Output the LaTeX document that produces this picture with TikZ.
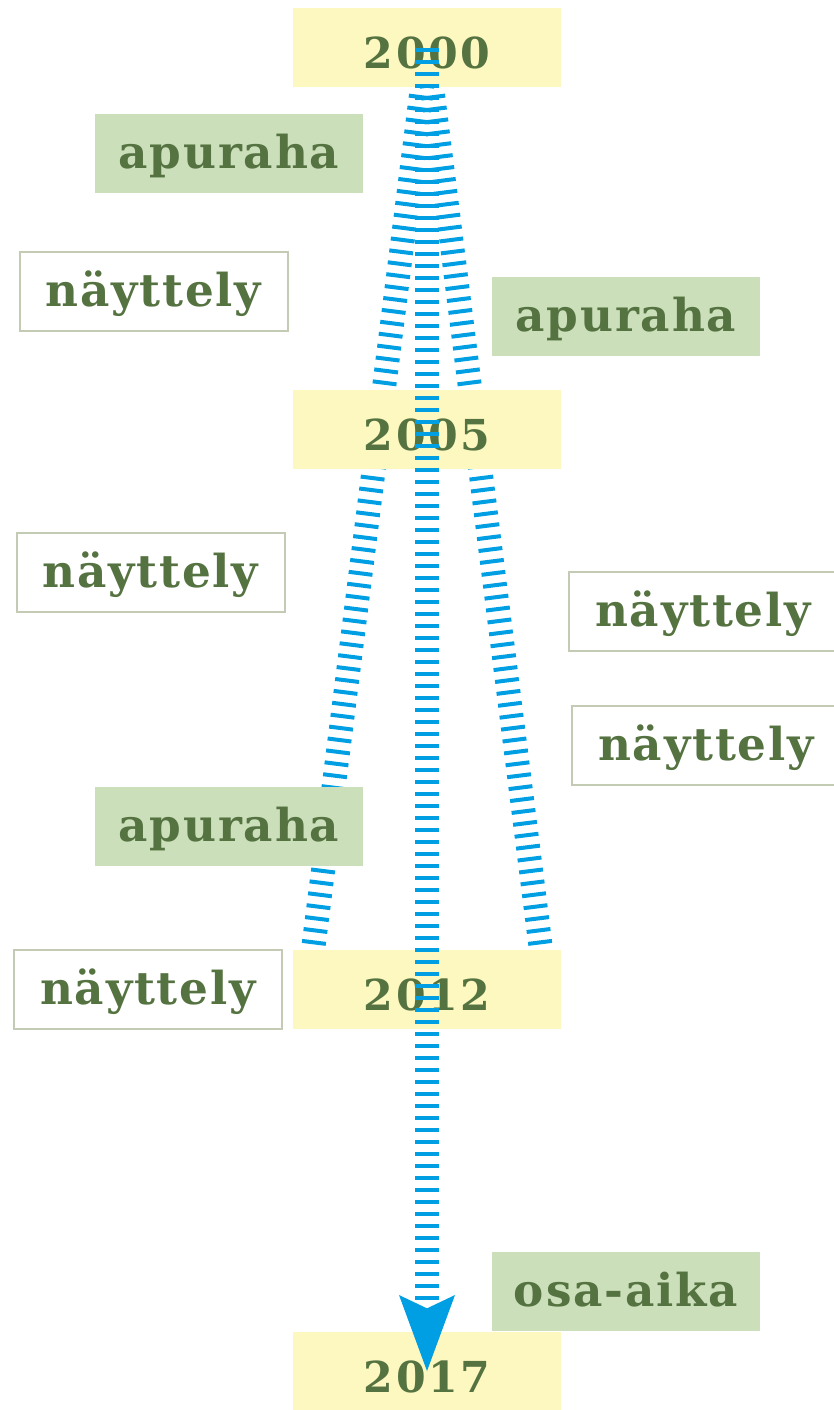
\documentclass[tikz,border=0pt]{standalone}
\usepackage{fontspec}
\setmainfont{DejaVu Serif}
\newfontfamily\lblfont[LetterSpace=4]{DejaVu Serif}
\newfontfamily\yrfont[LetterSpace=6]{DejaVu Serif}
\usetikzlibrary{arrows.meta,backgrounds,calc}
\definecolor{lineblue}{HTML}{009FE3}
\definecolor{yearfill}{HTML}{FDF7C0}
\definecolor{grantfill}{HTML}{CCDFBB}
\definecolor{exhborder}{HTML}{C3CBB5}
\definecolor{txtgreen}{HTML}{557341}
\begin{document}
\begin{tikzpicture}[x=0.75pt,y=-0.75pt,
  box/.style={minimum width=201pt,minimum height=59.25pt,inner sep=0pt,text=txtgreen,
    text height=31pt,text depth=8pt,
    font=\lblfont\bfseries\fontsize{34}{40}\selectfont},
  year/.style={box,fill=yearfill,text height=32pt,text depth=0pt,
    font=\yrfont\bfseries\fontsize{32}{38}\selectfont},
  grant/.style={box,fill=grantfill},
  exhib/.style={box,fill=white,draw=exhborder,line width=1.5pt},
  flow/.style={draw=lineblue,line width=18pt,dash pattern=on 3pt off 6pt}
]
\useasboundingbox (0,0) rectangle (833,1410);

\node[year]  (n00) at (427,47.5)   {2000};
\node[grant] (a1)  at (229,153.5)  {apuraha};
\node[exhib] (ny1) at (153.5,291.5){näyttely};
\node[grant] (a2)  at (626,316.5)  {apuraha};
\node[year]  (n05) at (427,429.5)  {2005};
\node[exhib] (ny2) at (150.5,572.5){näyttely};
\node[exhib] (ny3) at (703,611.5)  {näyttely};
\node[exhib] (ny4) at (706,745.5)  {näyttely};
\node[grant] (a3)  at (229,826.5)  {apuraha};
\node[exhib] (ny5) at (148,989.5)  {näyttely};
\node[year]  (n12) at (427,989.5)  {2012};
\node[grant] (oa)  at (626,1291.5) {osa-aika};
\node[year]  (n17) at (427,1371)   {2017};

\coordinate (sideL) at ($(n12.center)+(-119,0)$);
\coordinate (sideR) at ($(n12.center)+(119,0)$);

\begin{scope}[on background layer]
  \draw[flow] (n00.center) -- (sideL);
  \draw[flow] (n00.center) -- (sideR);
\end{scope}

\draw[flow,-{Stealth[length=57pt,width=42pt,inset=10pt,line width=0pt]}] (n00.center) -- (n17.center);
\end{tikzpicture}
\end{document}
